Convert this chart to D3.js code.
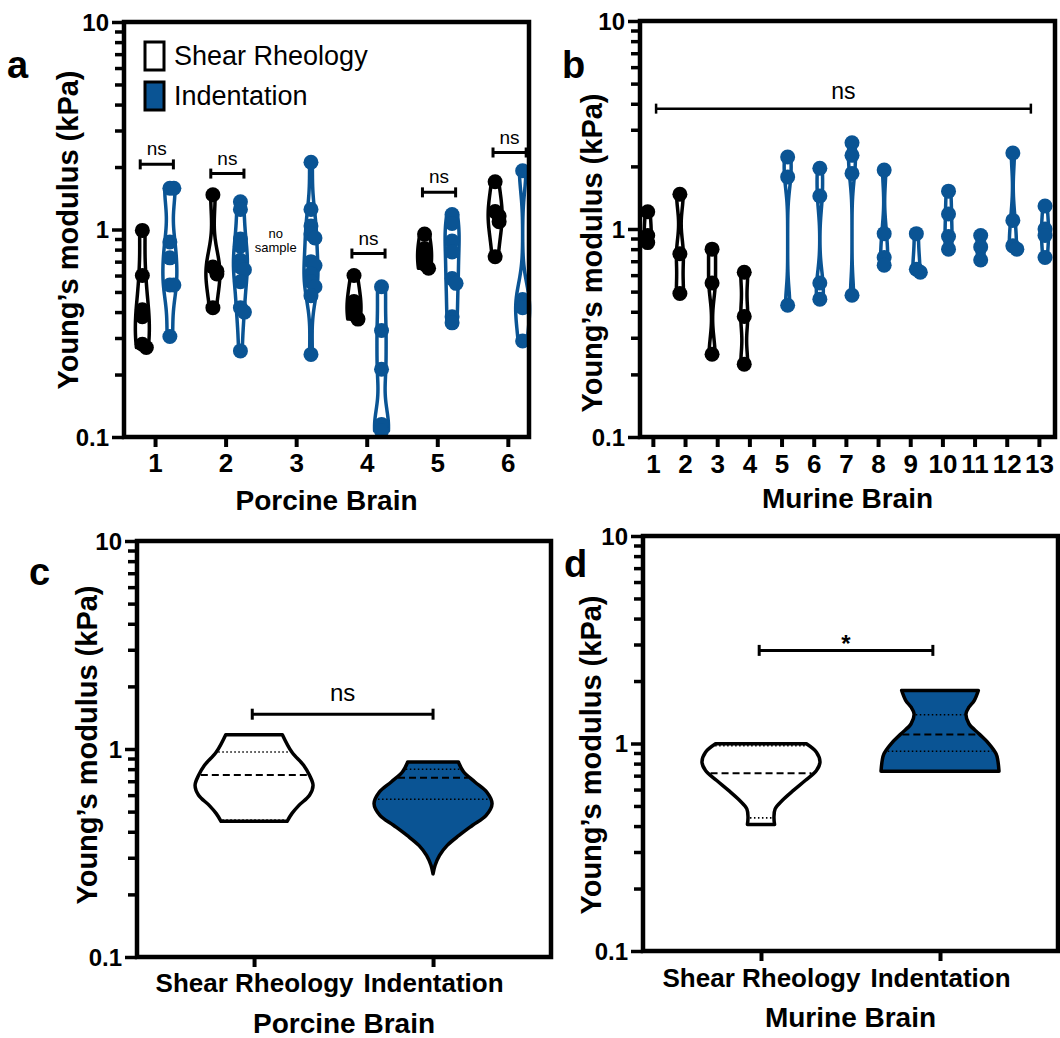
<!DOCTYPE html>
<html>
<head>
<meta charset="utf-8">
<script src="https://cdn.jsdelivr.net/npm/d3@7"></script>
<style>
  body { margin: 0; background: #fff; }
  svg { display: block; font-family: "Liberation Sans", Arial, sans-serif; }
</style>
</head>
<body>
<svg id="chart" width="1060" height="1038"></svg>
<script>
// ---- data (kPa) ----
const porcineGroups = [1, 2, 3, 4, 5, 6];
const porcineShear = [
  [0.99, 0.60, 0.41, 0.38, 0.28, 0.27],
  [1.47, 0.66, 0.63, 0.61, 0.42],
  [],
  [0.60, 0.45, 0.42, 0.39, 0.37],
  [0.95, 0.81, 0.73, 0.68, 0.65],
  [1.70, 1.22, 1.16, 1.09, 0.74]
];
const porcineIndent = [
  [1.58, 1.58, 0.87, 0.73, 0.54, 0.54, 0.305],
  [1.36, 1.25, 0.90, 0.83, 0.71, 0.66, 0.64, 0.56, 0.42, 0.40, 0.26],
  [2.11, 1.25, 1.04, 0.95, 0.91, 0.70, 0.67, 0.61, 0.56, 0.53, 0.48, 0.25],
  [0.53, 0.326, 0.212, 0.115, 0.107],
  [1.18, 1.07, 0.88, 0.78, 0.58, 0.55, 0.38, 0.355],
  [1.92, 0.46, 0.42, 0.29]
];
const porcineBracketGroups = [1, 2, 4, 5, 6];
const porcineBracketValues = [2.06, 1.86, 0.766, 1.51, 2.35];

const murineGroups = [1, 2, 3, 4, 5, 6, 7, 8, 9, 10, 11, 12, 13];
const murineShear = [
  [1.21, 0.93, 0.86], [1.47, 0.76, 0.49], [0.80, 0.55, 0.25], [0.62, 0.38, 0.224],
  [], [], [], [], [], [], [], [], []
];
const murineIndent = [
  [], [], [], [],
  [2.22, 1.78, 0.43], [1.96, 1.44, 0.55, 0.46], [2.60, 2.26, 1.85, 0.48],
  [1.92, 0.95, 0.73, 0.67], [0.95, 0.64, 0.62], [1.52, 1.18, 0.92, 0.80],
  [0.93, 0.82, 0.71], [2.32, 1.10, 0.83, 0.80], [1.29, 1.00, 0.93, 0.73]
];
const murineBracket = [1.1, 12.75];
const murineBracketValue = 3.79;

const methods = ["Shear Rheology", "Indentation"];
// violin outlines of panels c and d: [kPa, relative density]
const porcineShearDensity = [[1.172, 0.48], [0.967, 0.64], [0.835, 0.84], [0.747, 0.94], [0.669, 1.0],
  [0.599, 0.94], [0.536, 0.76], [0.489, 0.64], [0.449, 0.56]];
const porcineIndentDensity = [[0.866, 0.43], [0.775, 0.52], [0.694, 0.71], [0.621, 0.91], [0.546, 1.0],
  [0.48, 0.9], [0.43, 0.67], [0.384, 0.44], [0.344, 0.24], [0.308, 0.11], [0.276, 0.035], [0.251, 0]];
const murineShearDensity = [[0.997, 0.77], [0.908, 0.94], [0.813, 1.0], [0.741, 0.94], [0.663, 0.75],
  [0.594, 0.55], [0.531, 0.36], [0.484, 0.24], [0.441, 0.22], [0.407, 0.23]];
const murineIndentDensity = [[1.80, 0.65], [1.61, 0.58], [1.496, 0.49], [1.39, 0.44], [1.245, 0.49],
  [1.114, 0.66], [0.997, 0.83], [0.892, 0.95], [0.828, 0.98], [0.735, 1.0]];
const porcineMedians = [0.75, 0.728];
const porcineQuartiles = [[0.455, 0.967], [0.573, 0.799]];
const murineMedians = [0.719, 1.105];
const murineQuartiles = [[0.438, 0.975], [0.918, 1.375]];
const porcineSummaryBracket = [-0.01, 1.0];
const porcineSummaryBracketValue = 1.47;
const murineSummaryBracket = [-0.01, 0.96];
const murineSummaryBracketValue = 2.81;

const yMajor = [0.1, 1, 10];
const yMajorLabels = ["0.1", "1", "10"];

// ---- drawing ----
const blue = "#0a5494";
const svg = d3.select("#chart");

function frame(x, y) {
  const [x0, x1] = x.range();
  const [y0, y1] = y.range();
  svg.append("rect")
    .attr("x", x0).attr("y", y1)
    .attr("width", x1 - x0).attr("height", y0 - y1)
    .attr("fill", "none").attr("stroke", "#000").attr("stroke-width", 4.5);
}

function yAxis(x, y) {
  const g = svg.append("g").attr("transform", `translate(${x.range()[0]},0)`);
  g.call(d3.axisLeft(y).tickValues(y.ticks()).tickSize(9).tickFormat(""));
  g.select(".domain").remove();
  g.selectAll(".tick line")
    .attr("stroke", "#000")
    .attr("stroke-width", 3.5)
    .attr("x2", (d) => (yMajor.some((m) => Math.abs(m - d) < 1e-9) ? -12 : -9));
  svg.append("g").selectAll("text")
    .data(yMajor)
    .join("text")
    .attr("x", x.range()[0] - 15)
    .attr("y", (d) => y(d))
    .attr("dy", "0.36em")
    .attr("text-anchor", "end")
    .attr("fill", "#000")
    .style("font-size", "24px")
    .style("font-weight", "bold")
    .text((d, i) => yMajorLabels[i]);
}

function xAxis(x, y, ticks, format, labelY) {
  const g = svg.append("g").attr("transform", `translate(0,${y.range()[0]})`);
  g.call(d3.axisBottom(x).tickValues(ticks).tickSize(10).tickFormat(format));
  g.select(".domain").remove();
  g.selectAll(".tick line").attr("stroke", "#000").attr("stroke-width", 4);
  g.selectAll(".tick text")
    .attr("y", labelY).attr("dy", 0)
    .attr("fill", "#000")
    .style("font-size", "26px")
    .style("font-weight", "bold")
    .style("font-family", '"Liberation Sans", Arial, sans-serif');
}

function titles(x, y, xTitle, xTitleY, yTitleX, yTitleY) {
  svg.append("text")
    .attr("x", d3.mean(x.range())).attr("y", xTitleY)
    .attr("text-anchor", "middle")
    .style("font-size", "28px").style("font-weight", "bold")
    .text(xTitle);
  svg.append("text")
    .attr("transform", `translate(${yTitleX},${yTitleY}) rotate(-90)`)
    .attr("text-anchor", "middle").attr("dy", "0.35em")
    .style("font-size", "29px").style("font-weight", "bold")
    .text("Young\u2019s modulus (kPa)");
}

function letter(t, x, y) {
  svg.append("text").attr("x", x).attr("y", y)
    .style("font-size", "38px").style("font-weight", "bold").text(t);
}

function bracket(x1, x2, yv, cap, width, label, labelSize, labelDy, bold) {
  const g = svg.append("g").attr("stroke", "#000").attr("stroke-width", width);
  g.append("line").attr("x1", x1).attr("x2", x2).attr("y1", yv).attr("y2", yv);
  g.append("line").attr("x1", x1).attr("x2", x1).attr("y1", yv - cap / 2).attr("y2", yv + cap / 2);
  g.append("line").attr("x1", x2).attr("x2", x2).attr("y1", yv - cap / 2).attr("y2", yv + cap / 2);
  svg.append("text")
    .attr("x", (x1 + x2) / 2).attr("y", yv + labelDy)
    .attr("text-anchor", "middle")
    .style("font-size", labelSize + "px")
    .style("font-weight", bold ? "bold" : "normal")
    .text(label);
}

function kdeProfile(values, h) {
  const logs = values.map(Math.log10);
  const lo = d3.min(logs), hi = d3.max(logs);
  const n = 48;
  const pts = d3.range(n + 1).map((i) => {
    const t = lo + ((hi - lo) * i) / n;
    return [Math.pow(10, t), d3.sum(logs, (l) => Math.exp(-0.5 * ((t - l) / h) ** 2))];
  });
  const m = d3.max(pts, (p) => p[1]);
  return pts.map((p) => [p[0], p[1] / m]);
}

function violin(profile, cx, y, w, color, fill, strokeW, curve) {
  const area = d3.area()
    .curve(curve)
    .y((d) => y(d[0]))
    .x0((d) => cx - w(d[1]))
    .x1((d) => cx + w(d[1]));
  svg.append("path")
    .attr("d", area(profile))
    .attr("fill", fill)
    .attr("stroke", color)
    .attr("stroke-width", strokeW)
    .attr("stroke-linejoin", "round");
}

function densityAt(profile, v) {
  const p = profile.slice().sort((a, b) => a[0] - b[0]);
  const lv = Math.log10(v);
  for (let i = 0; i < p.length - 1; i++) {
    const a = Math.log10(p[i][0]), b = Math.log10(p[i + 1][0]);
    if (lv >= a && lv <= b) {
      const t = (lv - a) / (b - a);
      return p[i][1] + t * (p[i + 1][1] - p[i][1]);
    }
  }
  return lv < Math.log10(p[0][0]) ? p[0][1] : p[p.length - 1][1];
}

function innerLine(profile, v, cx, y, w, dash, width) {
  const hw = w(densityAt(profile, v)) - 2;
  svg.append("line")
    .attr("x1", cx - hw).attr("x2", cx + hw)
    .attr("y1", y(v)).attr("y2", y(v))
    .attr("stroke", "#000").attr("stroke-width", width)
    .attr("stroke-dasharray", dash);
}

// nudge points sideways when they sit on top of each other
function spread(vals, y) {
  const shifts = [0, 4, -4, 7, -7];
  const placed = [];
  return vals.map((v) => {
    const py = y(v);
    const near = placed.filter((q) => Math.abs(q - py) < 6).length;
    placed.push(py);
    return shifts[near % shifts.length];
  });
}

function groupPanel(x, y, groups, shear, indent, offS, offI, hw, bw) {
  const w = d3.scaleLinear().domain([0, 1]).range([0, hw]);
  groups.forEach((g, i) => {
    [[shear[i], offS, "#000"], [indent[i], offI, blue]].forEach(([vals, off, col]) => {
      if (!vals.length) return;
      const cx = x(g + off);
      violin(kdeProfile(vals, bw), cx, y, w, col, "#fff", 3.5, d3.curveBasis);
      const dx = spread(vals, y);
      svg.append("g").selectAll("circle")
        .data(vals).join("circle")
        .attr("cx", (d, j) => cx + dx[j]).attr("cy", (d) => y(d)).attr("r", 7.5)
        .attr("fill", col);
    });
  });
}

// ---- panel a ----
const xA = d3.scaleLinear().domain([0.56, 6.3]).range([124, 529]);
const yA = d3.scaleLog().domain([0.1, 10]).range([437, 22]);
groupPanel(xA, yA, porcineGroups, porcineShear, porcineIndent, -0.18, 0.21, 7, 0.1);
porcineBracketGroups.forEach((g, i) => {
  bracket(xA(g - 0.21), xA(g + 0.26), yA(porcineBracketValues[i]), 10, 3, "ns", 19, -9, false);
});
svg.append("text").attr("x", xA(2.71)).attr("y", 238).attr("text-anchor", "middle")
  .style("font-size", "13px").text("no");
svg.append("text").attr("x", xA(2.71)).attr("y", 252).attr("text-anchor", "middle")
  .style("font-size", "13px").text("sample");
frame(xA, yA);
yAxis(xA, yA);
xAxis(xA, yA, porcineGroups, (d) => d, 35);
titles(xA, yA, "Porcine Brain", 510, 68, 230);
letter("a", 7, 78);
// legend
svg.append("rect").attr("x", 145).attr("y", 42).attr("width", 19).attr("height", 28)
  .attr("fill", "#fff").attr("stroke", "#000").attr("stroke-width", 3);
svg.append("rect").attr("x", 145).attr("y", 82).attr("width", 19).attr("height", 28)
  .attr("fill", blue).attr("stroke", "#000").attr("stroke-width", 3);
svg.append("text").attr("x", 174).attr("y", 65).style("font-size", "27px").text(methods[0]);
svg.append("text").attr("x", 174).attr("y", 105).style("font-size", "27px").text(methods[1]);

// ---- panel b ----
const xB = d3.scaleLinear().domain([0.6, 13.5]).range([640, 1055]);
const yB = d3.scaleLog().domain([0.1, 10]).range([437, 21]);
groupPanel(xB, yB, murineGroups, murineShear, murineIndent, -0.16, 0.19, 3.5, 0.08);
bracket(xB(murineBracket[0]), xB(murineBracket[1]), yB(murineBracketValue), 10, 2.5, "ns", 23, -10, false);
frame(xB, yB);
yAxis(xB, yB);
xAxis(xB, yB, murineGroups, (d) => d, 36);
titles(xB, yB, "Murine Brain", 508, 592, 253);
letter("b", 562, 78);

// ---- panels c, d ----
function summaryPanel(x, y, shapes, medians, quartiles, br, brValue, label, labelSize, labelDy, bold) {
  const w = d3.scaleLinear().domain([0, 1]).range([0, 59]);
  shapes.forEach((prof, i) => {
    violin(prof, x(i), y, w, "#000", i === 0 ? "#fff" : blue, 3.5, d3.curveCatmullRom);
    innerLine(prof, medians[i], x(i), y, w, "7,4", 2);
    quartiles[i].forEach((q) => innerLine(prof, q, x(i), y, w, "1.5,2.5", 1.6));
  });
  bracket(x(br[0]), x(br[1]), y(brValue), 11, 3, label, labelSize, labelDy, bold);
}

const xC = d3.scaleLinear().domain([-0.654, 1.659]).range([137, 551]);
const yC = d3.scaleLog().domain([0.1, 10]).range([957, 541]);
summaryPanel(xC, yC, [porcineShearDensity, porcineIndentDensity], porcineMedians, porcineQuartiles,
  porcineSummaryBracket, porcineSummaryBracketValue, "ns", 24, -13, false);
frame(xC, yC);
yAxis(xC, yC);
xAxis(xC, yC, [0, 1], (d) => methods[d], 35);
titles(xC, yC, "Porcine Brain", 1033, 87, 745);
letter("c", 29, 585);

const xD = d3.scaleLinear().domain([-0.659, 1.659]).range([643, 1058]);
const yD = d3.scaleLog().domain([0.1, 10]).range([951, 536]);
summaryPanel(xD, yD, [murineShearDensity, murineIndentDensity], murineMedians, murineQuartiles,
  murineSummaryBracket, murineSummaryBracketValue, "*", 24, 2, true);
frame(xD, yD);
yAxis(xD, yD);
xAxis(xD, yD, [0, 1], (d) => methods[d], 36);
titles(xD, yD, "Murine Brain", 1027, 591, 755);
letter("d", 564, 577);
</script>
</body>
</html>
